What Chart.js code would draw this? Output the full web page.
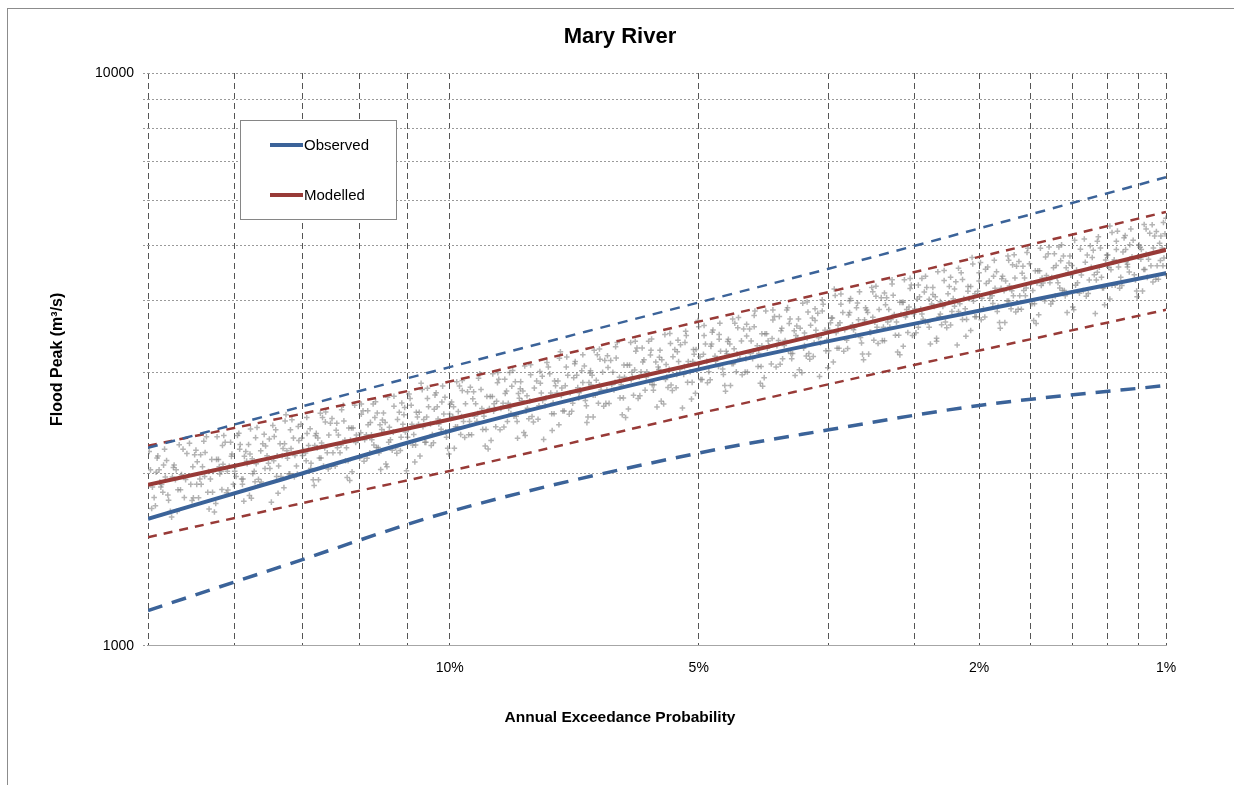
<!DOCTYPE html>
<html>
<head>
<meta charset="utf-8">
<title>Mary River</title>
<script src="https://cdn.jsdelivr.net/npm/chart.js@4.4.1/dist/chart.umd.min.js"></script>
<style>
    html, body { margin: 0; padding: 0; background: #fff; overflow: hidden; }
    #frame { position: absolute; left: 7px; top: 8px; width: 1300px; height: 900px;
             border-left: 1px solid #8c8c8c; border-top: 1px solid #8c8c8c; }
    #floodChart { position: absolute; left: 8px; top: 9px; }
</style>
</head>
<body>
<div id="frame"></div>
<canvas id="floodChart" width="1226" height="776"></canvas>
<script>
// AEP (%) where the frequency curves are given
const curveAep = [20, 15, 10, 5, 3.33, 2, 1];

// flood peaks (m3/s)
const observed      = [1666, 1951, 2371, 3037, 3403, 3845, 4472];
const observedUpper = [2216, 2560, 3065, 3975, 4552, 5353, 6577];
const observedLower = [1152, 1375, 1714, 2170, 2382, 2627, 2847];
const modelled      = [1910, 2147, 2483, 3114, 3525, 4086, 4912];
const modelledUpper = [2234, 2497, 2892, 3680, 4146, 4775, 5720];
const modelledLower = [1547, 1742, 2019, 2544, 2861, 3276, 3859];

// simulated event peaks: AEP (%) and flow (m3/s)
const sampleAep = [
    19.9, 19.75, 19.6, 19.45, 19.3, 19.1, 18.95, 18.8, 18.6,
    18.3, 18.15, 18.0, 17.85, 17.7, 17.55, 17.4, 17.25, 17.15,
    17.0, 16.85, 16.7, 16.55, 16.4, 16.3, 16.15, 16.05, 15.95,
    15.8, 15.65, 15.5, 15.35, 15.2, 15.1, 14.95, 14.85, 14.75,
    14.6, 14.5, 14.35, 14.2, 14.1, 13.95, 13.85, 13.75, 13.65,
    13.5, 13.4, 13.25, 13.15, 13.0, 12.9, 12.8, 12.7, 12.55,
    12.4, 12.3, 12.2, 12.1, 12.0, 11.9, 11.8, 11.7, 11.6,
    11.45, 11.35, 11.25, 11.15, 11.05, 10.95, 10.85, 10.75, 10.65,
    10.55, 10.45, 10.35, 10.25, 10.15, 10.05, 9.95, 9.85, 9.75,
    9.65, 9.55, 9.45, 9.35, 9.25, 9.15, 9.05, 8.95, 8.9,
    8.8, 8.7, 8.6, 8.55, 8.45, 8.35, 8.3, 8.2, 8.15,
    8.05, 7.95, 7.85, 7.8, 7.7, 7.6, 7.55, 7.45, 7.4,
    7.3, 7.2, 7.15, 7.05, 7.0, 6.9, 6.85, 6.8, 6.72,
    6.65, 6.58, 6.5, 6.43, 6.35, 6.28, 6.2, 6.13, 6.08,
    6.0, 5.93, 5.86, 5.8, 5.74, 5.68, 5.61, 5.55, 5.5,
    5.43, 5.37, 5.31, 5.25, 5.19, 5.13, 5.07, 5.01, 4.97,
    4.9, 4.85, 4.79, 4.73, 4.68, 4.62, 4.57, 4.52, 4.48,
    4.41, 4.36, 4.31, 4.26, 4.21, 4.16, 4.11, 4.06, 4.03,
    3.96, 3.91, 3.86, 3.81, 3.76, 3.72, 3.67, 3.63, 3.6,
    3.55, 3.51, 3.47, 3.43, 3.39, 3.35, 3.31, 3.27, 3.24,
    3.18, 3.14, 3.1, 3.06, 3.02, 2.98, 2.95, 2.91, 2.88,
    2.84, 2.8, 2.77, 2.73, 2.7, 2.66, 2.63, 2.6, 2.57,
    2.53, 2.5, 2.47, 2.44, 2.41, 2.38, 2.35, 2.32, 2.29,
    2.25, 2.22, 2.19, 2.16, 2.13, 2.1, 2.08, 2.05, 2.03,
    2.0, 1.97, 1.94, 1.91, 1.89, 1.86, 1.84, 1.81, 1.8,
    1.77, 1.75, 1.72, 1.7, 1.68, 1.65, 1.63, 1.61, 1.59,
    1.56, 1.54, 1.52, 1.5, 1.48, 1.46, 1.44, 1.42, 1.4,
    1.37, 1.35, 1.33, 1.31, 1.3, 1.28, 1.26, 1.24, 1.23,
    1.21, 1.19, 1.17, 1.16, 1.14, 1.12, 1.11, 1.09, 1.08,
    1.06, 1.045, 1.03, 1.015, 1.0,

    19.82, 19.67, 19.52, 19.37, 19.2, 19.02, 18.87, 18.7, 18.5,
    18.22, 18.07, 17.92, 17.77, 17.62, 17.47, 17.32, 17.2, 17.08,
    16.92, 16.77, 16.62, 16.47, 16.35, 16.22, 16.1, 16.0, 15.88,
    15.72, 15.57, 15.42, 15.27, 15.15, 15.02, 14.9, 14.8, 14.68,
    14.55, 14.42, 14.27, 14.15, 14.02, 13.9, 13.8, 13.7, 13.58,
    13.45, 13.32, 13.2, 13.07, 12.95, 12.85, 12.75, 12.62, 12.47,
    12.35, 12.25, 12.15, 12.05, 11.95, 11.85, 11.75, 11.65, 11.52,
    11.4, 11.3, 11.2, 11.1, 11.0, 10.9, 10.8, 10.7, 10.6,
    10.5, 10.4, 10.3, 10.2, 10.1, 10.0, 9.9, 9.8, 9.7,
    9.6, 9.5, 9.4, 9.3, 9.2, 9.1, 9.0, 8.92, 8.85,
    8.75, 8.65, 8.58, 8.5, 8.4, 8.33, 8.25, 8.18, 8.1,
    8.0, 7.9, 7.83, 7.75, 7.65, 7.58, 7.5, 7.43, 7.35,
    7.25, 7.18, 7.1, 7.02, 6.95, 6.88, 6.82, 6.76, 6.68,
    6.62, 6.54, 6.47, 6.39, 6.31, 6.24, 6.17, 6.1, 6.04,
    5.96, 5.9, 5.83, 5.77, 5.71, 5.64, 5.58, 5.52, 5.46,
    5.4, 5.34, 5.28, 5.22, 5.16, 5.1, 5.04, 4.99, 4.93,
    4.88, 4.82, 4.76, 4.7, 4.65, 4.6, 4.55, 4.5, 4.45,
    4.39, 4.33, 4.28, 4.23, 4.18, 4.13, 4.08, 4.05, 3.99,
    3.93, 3.88, 3.83, 3.78, 3.74, 3.7, 3.65, 3.61, 3.57,
    3.53, 3.49, 3.45, 3.41, 3.37, 3.33, 3.29, 3.25, 3.21,
    3.16, 3.12, 3.08, 3.04, 3.0, 2.96, 2.93, 2.9, 2.86,
    2.82, 2.78, 2.75, 2.71, 2.68, 2.64, 2.61, 2.58, 2.55,
    2.51, 2.48, 2.45, 2.42, 2.39, 2.36, 2.33, 2.3, 2.27,
    2.23, 2.2, 2.17, 2.14, 2.11, 2.09, 2.06, 2.04, 2.01,
    1.98, 1.95, 1.92, 1.9, 1.87, 1.85, 1.82, 1.8, 1.78,
    1.76, 1.73, 1.71, 1.69, 1.66, 1.64, 1.62, 1.6, 1.57,
    1.55, 1.53, 1.51, 1.49, 1.47, 1.45, 1.43, 1.41, 1.38,
    1.36, 1.34, 1.32, 1.3, 1.29, 1.27, 1.25, 1.235, 1.22,
    1.2, 1.18, 1.165, 1.15, 1.13, 1.115, 1.1, 1.085, 1.07,
    1.05, 1.035, 1.02, 1.008,

    19.95, 19.7, 19.55, 19.4, 19.25, 19.05, 18.9, 18.75, 18.55,
    18.35, 18.2, 18.05, 17.9, 17.75, 17.6, 17.45, 17.3, 17.12,
    17.05, 16.9, 16.75, 16.6, 16.45, 16.32, 16.2, 16.08, 15.92,
    15.85, 15.7, 15.55, 15.4, 15.25, 15.12, 14.98, 14.88, 14.72,
    14.65, 14.47, 14.32, 14.18, 14.05, 13.92, 13.82, 13.72, 13.62,
    13.55, 13.37, 13.22, 13.1, 12.98, 12.88, 12.78, 12.65, 12.5,
    12.45, 12.28, 12.18, 12.08, 11.98, 11.88, 11.78, 11.68, 11.55,
    11.5, 11.32, 11.22, 11.12, 11.02, 10.92, 10.82, 10.72, 10.62,
    10.58, 10.42, 10.32, 10.22, 10.12, 10.02, 9.92, 9.82, 9.72,
    9.68, 9.52, 9.42, 9.32, 9.22, 9.12, 9.02, 8.94, 8.87,
    8.82, 8.68, 8.62, 8.52, 8.42, 8.37, 8.27, 8.21, 8.12,
    8.08, 7.92, 7.87, 7.77, 7.67, 7.62, 7.52, 7.47, 7.37,
    7.32, 7.22, 7.12, 7.08, 6.97, 6.92, 6.84, 6.78, 6.7,
    6.68, 6.56, 6.52, 6.41, 6.37, 6.26, 6.22, 6.11, 6.06,
    6.03, 5.95, 5.88, 5.78, 5.76, 5.66, 5.63, 5.53, 5.48,
    5.45, 5.35, 5.33, 5.23, 5.21, 5.11, 5.09, 5.0, 4.95,
    4.92, 4.83, 4.81, 4.71, 4.7, 4.61, 4.59, 4.51, 4.46,
    4.43, 4.34, 4.32, 4.24, 4.22, 4.14, 4.12, 4.07, 4.0,
    3.98, 3.89, 3.87, 3.79, 3.77, 3.71, 3.68, 3.62, 3.58,
    3.57, 3.5, 3.48, 3.42, 3.4, 3.34, 3.32, 3.26, 3.22,
    3.2, 3.13, 3.11, 3.05, 3.03, 2.97, 2.96, 2.89, 2.87,
    2.85, 2.79, 2.76, 2.72, 2.69, 2.65, 2.62, 2.59, 2.56,
    2.54, 2.49, 2.46, 2.43, 2.4, 2.37, 2.34, 2.31, 2.28,
    2.26, 2.21, 2.18, 2.15, 2.12, 2.095, 2.07, 2.045, 2.02,
    1.99, 1.96, 1.93, 1.905, 1.88, 1.855, 1.83, 1.805, 1.785,
    1.765, 1.74, 1.715, 1.695, 1.67, 1.645, 1.625, 1.605, 1.58,
    1.555, 1.535, 1.515, 1.495, 1.475, 1.455, 1.435, 1.415, 1.39,
    1.365, 1.345, 1.325, 1.305, 1.285, 1.265, 1.245, 1.23, 1.215,
    1.205, 1.185, 1.168, 1.152, 1.135, 1.118, 1.102, 1.088, 1.075,
    1.055, 1.04, 1.025, 1.012, 1.004,

    19.85, 19.63, 19.48, 19.33, 19.17, 18.98, 18.83, 18.66, 18.45,
    18.25, 18.1, 17.95, 17.8, 17.65, 17.5, 17.35, 17.22, 17.1,
    16.95, 16.8, 16.65, 16.5, 16.37, 16.25, 16.12, 16.02, 15.9,
    15.75, 15.6, 15.45, 15.3, 15.17, 15.05, 14.92, 14.82, 14.7,
    14.57, 14.44, 14.3, 14.16, 14.03, 13.88, 13.78, 13.68, 13.56,
    13.47, 13.35, 13.18, 13.05, 12.93, 12.83, 12.73, 12.6, 12.45,
    12.37, 12.26, 12.14, 12.03, 11.93, 11.83, 11.73, 11.63, 11.5,
    11.42, 11.28, 11.18, 11.08, 10.98, 10.88, 10.78, 10.68, 10.58,
    10.48, 10.38, 10.28, 10.18, 10.08, 9.98, 9.88, 9.78, 9.68,
    9.62, 9.48, 9.38, 9.28, 9.18, 9.08, 8.98, 8.91, 8.83,
    8.77, 8.66, 8.57, 8.48, 8.38, 8.31, 8.23, 8.16, 8.08,
    8.02, 7.88, 7.82, 7.73, 7.63, 7.57, 7.48, 7.42, 7.33,
    7.27, 7.16, 7.07, 7.0, 6.93, 6.86, 6.8, 6.74, 6.67,
    6.6, 6.53, 6.45, 6.38, 6.3, 6.23, 6.15, 6.09, 6.02,
    5.98, 5.91, 5.84, 5.75, 5.72, 5.62, 5.59, 5.51, 5.44,
    5.41, 5.32, 5.29, 5.2, 5.17, 5.08, 5.05, 4.98, 4.92,
    4.87, 4.8, 4.75, 4.69, 4.64, 4.58, 4.54, 4.49, 4.44,
    4.38, 4.32, 4.27, 4.22, 4.17, 4.12, 4.09, 4.04, 3.98,
    3.94, 3.9, 3.84, 3.8, 3.75, 3.69, 3.66, 3.6, 3.56,
    3.54, 3.48, 3.44, 3.4, 3.36, 3.3, 3.28, 3.23, 3.2,
    3.17, 3.11, 3.07, 3.01, 2.99, 2.94, 2.92, 2.88, 2.85,
    2.83, 2.77, 2.74, 2.7, 2.67, 2.63, 2.6, 2.57, 2.54,
    2.52, 2.47, 2.44, 2.41, 2.38, 2.35, 2.32, 2.29, 2.26,
    2.24, 2.21, 2.18, 2.15, 2.12, 2.08, 2.06, 2.03, 2.0,
    1.985, 1.955, 1.925, 1.895, 1.875, 1.845, 1.825, 1.795, 1.775,
    1.755, 1.735, 1.705, 1.685, 1.655, 1.635, 1.615, 1.595, 1.575,
    1.545, 1.525, 1.505, 1.485, 1.465, 1.445, 1.425, 1.405, 1.385,
    1.355, 1.335, 1.315, 1.295, 1.275, 1.255, 1.24, 1.225, 1.21,
    1.195, 1.175, 1.16, 1.145, 1.125, 1.105, 1.095, 1.08, 1.065,
    1.052, 1.038, 1.022, 1.01, 1.002
];
const sampleFlow = [
    2028, 1814, 2145, 1911, 1970, 1716, 2067, 1872, 2204,
    1913, 2155, 1813, 2054, 2316, 1954, 1712, 2115, 2014,
    2266, 2058, 1913, 2328, 1954, 2141, 2245, 1809, 2017,
    1953, 2253, 2146, 1781, 2382, 2060, 2210, 2532, 1996,
    2304, 2060, 2437, 2171, 2237, 1949, 2348, 2126, 2503,
    2172, 2446, 2057, 2332, 2629, 2217, 1943, 2400, 2286,
    2572, 2336, 2171, 2643, 2218, 2431, 2549, 2053, 2289,
    2216, 2557, 2435, 2021, 2703, 2338, 2508, 2873, 2265,
    2614, 2337, 2764, 2463, 2538, 2211, 2664, 2412, 2840,
    2464, 2776, 2335, 2646, 2983, 2516, 2205, 2724, 2594,
    2918, 2650, 2463, 2998, 2516, 2757, 2891, 2329, 2597,
    2513, 2900, 2762, 2292, 3066, 2652, 2845, 3259, 2569,
    2965, 2651, 3136, 2794, 2880, 2509, 3022, 2737, 3222,
    2796, 3149, 2649, 3002, 3384, 2855, 2502, 3090, 2943,
    3310, 3007, 2794, 3401, 2855, 3128, 3280, 2642, 2946,
    2852, 3291, 3134, 2601, 3479, 3009, 3228, 3698, 2915,
    3364, 3009, 3559, 3170, 3267, 2847, 3429, 3106, 3656,
    3172, 3573, 3005, 3406, 3840, 3239, 2838, 3506, 3339,
    3755, 3411, 3169, 3858, 3238, 3548, 3721, 2997, 3342,
    3236, 3734, 3556, 2951, 3947, 3414, 3663, 4196, 3307,
    3818, 3414, 4038, 3598, 3708, 3230, 3891, 3524, 4148,
    3599, 4053, 3409, 3864, 4356, 3674, 3220, 3977, 3788,
    4262, 3871, 3597, 4379, 3675, 4027, 4223, 3402, 3793,
    3673, 4238, 4036, 3350, 4480, 3875, 4157, 4762, 3753,
    4333, 3874, 4583, 4083, 4208, 3666, 4416, 3999, 4708,
    4084, 4600, 3869, 4385, 4944, 4170, 3654, 4514, 4299,
    4836, 4393, 4082, 4969, 4171, 4570, 4792, 3860, 4304,
    4168, 4809, 4580, 3801, 5084, 4397, 4717, 5404, 4259,
    4917, 4397, 5201, 4633, 4775, 4161, 5012, 4539, 5343,
    4608, 5190, 4365, 4947, 5578,

    1892, 2009, 1931, 2067, 1833, 1970, 2028, 1872, 1950,
    2054, 1913, 2155, 1974, 2014, 1853, 2115, 1994, 2074,
    2017, 2141, 2058, 2204, 1954, 2100, 2162, 1996, 2079,
    2189, 2039, 2296, 2103, 2146, 1974, 2253, 2125, 2210,
    2149, 2281, 2193, 2348, 2082, 2237, 2304, 2126, 2215,
    2332, 2172, 2446, 2240, 2286, 2103, 2400, 2263, 2355,
    2289, 2431, 2336, 2502, 2218, 2384, 2454, 2266, 2360,
    2484, 2313, 2605, 2386, 2435, 2240, 2557, 2411, 2508,
    2438, 2588, 2488, 2664, 2362, 2538, 2614, 2412, 2513,
    2646, 2464, 2776, 2542, 2594, 2386, 2724, 2568, 2672,
    2597, 2757, 2650, 2838, 2516, 2704, 2784, 2570, 2677,
    2817, 2624, 2955, 2707, 2762, 2541, 2900, 2734, 2845,
    2765, 2937, 2822, 3022, 2680, 2880, 2965, 2737, 2851,
    3002, 2796, 3149, 2884, 2943, 2708, 3090, 2914, 3031,
    2946, 3128, 3007, 3219, 2855, 3067, 3158, 2916, 3037,
    3197, 2977, 3353, 3071, 3134, 2883, 3291, 3103, 3228,
    3138, 3332, 3203, 3429, 3041, 3267, 3364, 3106, 3235,
    3406, 3172, 3573, 3272, 3339, 3072, 3506, 3306, 3439,
    3342, 3548, 3411, 3652, 3238, 3479, 3583, 3307, 3445,
    3627, 3378, 3805, 3485, 3556, 3272, 3734, 3520, 3663,
    3561, 3781, 3634, 3891, 3451, 3708, 3818, 3524, 3671,
    3864, 3599, 4053, 3712, 3788, 3485, 3977, 3750, 3902,
    3793, 4027, 3871, 4145, 3675, 3949, 4066, 3754, 3910,
    4117, 3834, 4319, 3955, 4036, 3713, 4238, 3996, 4157,
    4041, 4291, 4124, 4416, 3916, 4208, 4333, 3999, 4166,
    4385, 4084, 4600, 4213, 4299, 3955, 4514, 4256, 4428,
    4304, 4570, 4393, 4703, 4171, 4481, 4614, 4260, 4437,
    4672, 4351, 4901, 4488, 4580, 4214, 4809, 4534, 4717,
    4586, 4870, 4681, 5012, 4444, 4775, 4917, 4539, 4728,
    4947, 4608, 5190, 4753,

    2184, 1755, 2028, 1853, 2106, 1677, 1950, 2243, 1814,
    2256, 1813, 2095, 1913, 2175, 1732, 2014, 2316, 1873,
    2328, 1871, 2162, 1975, 2245, 1788, 2079, 2391, 1933,
    2404, 1931, 2232, 2039, 2318, 1846, 2146, 2468, 1996,
    2481, 1994, 2304, 2104, 2392, 1905, 2215, 2547, 2060,
    2560, 2057, 2377, 2172, 2469, 1966, 2286, 2629, 2126,
    2643, 2124, 2454, 2242, 2549, 2030, 2360, 2714, 2195,
    2727, 2192, 2532, 2313, 2630, 2094, 2435, 2800, 2265,
    2815, 2262, 2614, 2387, 2714, 2161, 2513, 2890, 2337,
    2905, 2335, 2698, 2464, 2802, 2231, 2594, 2983, 2412,
    2998, 2409, 2784, 2543, 2891, 2302, 2677, 3079, 2490,
    3093, 2486, 2872, 2624, 2983, 2375, 2762, 3176, 2569,
    3193, 2566, 2965, 2708, 3079, 2452, 2851, 3279, 2651,
    3296, 2649, 3061, 2796, 3178, 2531, 2943, 3384, 2737,
    3401, 2733, 3158, 2885, 3280, 2612, 3037, 3493, 2824,
    3510, 2821, 3259, 2977, 3385, 2695, 3134, 3604, 2915,
    3623, 2912, 3364, 3073, 3494, 2782, 3235, 3720, 3009,
    3740, 3005, 3473, 3172, 3606, 2872, 3339, 3840, 3105,
    3858, 3101, 3583, 3273, 3721, 2963, 3445, 3962, 3204,
    3983, 3200, 3698, 3378, 3840, 3058, 3556, 4089, 3307,
    4112, 3304, 3818, 3487, 3965, 3157, 3671, 4222, 3414,
    4243, 3409, 3940, 3599, 4091, 3258, 3788, 4356, 3523,
    4379, 3519, 4066, 3715, 4223, 3363, 3910, 4497, 3636,
    4520, 3632, 4197, 3834, 4359, 3471, 4036, 4641, 3753,
    4666, 3749, 4333, 3958, 4499, 3583, 4166, 4791, 3874,
    4815, 3869, 4471, 4084, 4643, 3697, 4299, 4944, 3998,
    4969, 3993, 4614, 4215, 4792, 3816, 4437, 5103, 4126,
    5130, 4122, 4763, 4351, 4946, 3939, 4580, 5267, 4259,
    5295, 4255, 4917, 4492, 5106, 4066, 4728, 5437, 4397,
    5432, 4365, 5044, 4608, 5238,

    1736, 2126, 1892, 2204, 1794, 2048, 1716, 1989, 2165,
    1792, 2195, 1954, 2276, 1853, 2115, 1772, 2054, 2236,
    1850, 2266, 2017, 2349, 1913, 2183, 1830, 2121, 2308,
    1910, 2339, 2082, 2425, 1974, 2253, 1888, 2189, 2382,
    1971, 2414, 2149, 2503, 2038, 2326, 1949, 2259, 2459,
    2035, 2492, 2217, 2583, 2103, 2400, 2012, 2332, 2537,
    2100, 2572, 2289, 2667, 2171, 2478, 2077, 2407, 2620,
    2167, 2654, 2362, 2752, 2240, 2557, 2143, 2484, 2703,
    2237, 2739, 2438, 2840, 2312, 2639, 2211, 2563, 2789,
    2309, 2827, 2516, 2931, 2386, 2724, 2283, 2646, 2879,
    2383, 2918, 2597, 3025, 2463, 2811, 2356, 2731, 2971,
    2458, 3011, 2679, 3121, 2541, 2900, 2431, 2817, 3066,
    2537, 3108, 2765, 3222, 2623, 2994, 2509, 2908, 3165,
    2619, 3208, 2855, 3326, 2708, 3090, 2590, 3002, 3267,
    2703, 3310, 2946, 3432, 2794, 3189, 2673, 3098, 3371,
    2789, 3416, 3040, 3541, 2883, 3291, 2758, 3197, 3479,
    2879, 3526, 3138, 3656, 2976, 3397, 2847, 3300, 3591,
    2972, 3640, 3239, 3773, 3072, 3506, 2938, 3406, 3706,
    3066, 3755, 3342, 3893, 3169, 3617, 3032, 3514, 3824,
    3165, 3876, 3449, 4018, 3272, 3734, 3129, 3627, 3947,
    3267, 4001, 3561, 4148, 3377, 3855, 3230, 3744, 4075,
    3371, 4129, 3674, 4280, 3485, 3977, 3333, 3864, 4205,
    3480, 4262, 3793, 4418, 3597, 4106, 3441, 3988, 4340,
    3592, 4399, 3915, 4561, 3713, 4238, 3552, 4117, 4480,
    3708, 4541, 4041, 4708, 3833, 4374, 3666, 4249, 4624,
    3826, 4686, 4170, 4858, 3955, 4514, 3783, 4385, 4772,
    3949, 4836, 4304, 5014, 4082, 4659, 3905, 4526, 4925,
    4076, 4992, 4443, 5175, 4214, 4809, 4030, 4672, 5084,
    4208, 5154, 4586, 5343, 4350, 4964, 4161, 4823, 5248,
    4317, 5287, 4705, 5481, 4462
];

// return periods (1 in N years) with a vertical grid line
const gridAri = [5, 6, 7, 8, 9, 10, 20, 30, 40, 50, 60, 70, 80, 90, 100];
const labelAep = [10, 5, 2, 1];
const labelText = ['10%', '5%', '2%', '1%'];
const flowTicks = [1000, 2000, 3000, 4000, 5000, 6000, 7000, 8000, 9000, 10000];
const flowLabels = [1000, 10000];

const FONT = "'Liberation Sans', Arial, sans-serif";

// inverse standard normal CDF (Acklam)
function probit(p) {
    const a = [-39.69683028665376, 220.9460984245205, -275.9285104469687, 138.3577518672690, -30.66479806614716, 2.506628277459239];
    const b = [-54.47609879822406, 161.5858368580409, -155.6989798598866, 66.80131188771972, -13.28068155288572];
    const c = [-0.007784894002430293, -0.3223964580411365, -2.400758277161838, -2.549732539343734, 4.374664141464968, 2.938163982698783];
    const d = [0.007784695709041462, 0.3224671290700398, 2.445134137142996, 3.754408661907416];
    const pl = 0.02425;
    let q, r;
    if (p < pl) {
        q = Math.sqrt(-2 * Math.log(p));
        return (((((c[0]*q+c[1])*q+c[2])*q+c[3])*q+c[4])*q+c[5]) / ((((d[0]*q+d[1])*q+d[2])*q+d[3])*q+1);
    }
    if (p <= 1 - pl) {
        q = p - 0.5; r = q * q;
        return (((((a[0]*r+a[1])*r+a[2])*r+a[3])*r+a[4])*r+a[5])*q / (((((b[0]*r+b[1])*r+b[2])*r+b[3])*r+b[4])*r+1);
    }
    q = Math.sqrt(-2 * Math.log(1 - p));
    return -(((((c[0]*q+c[1])*q+c[2])*q+c[3])*q+c[4])*q+c[5]) / ((((d[0]*q+d[1])*q+d[2])*q+d[3])*q+1);
}

// position on the normal probability axis for an AEP in percent
function aepToZ(aep) {
    return probit(1 - aep / 100);
}

function curve(values) {
    return curveAep.map((aep, i) => ({ x: aepToZ(aep), y: values[i] }));
}

const samplePoints = sampleAep.map((aep, i) => ({ x: aepToZ(aep), y: sampleFlow[i] }));
const labelZ = labelAep.map(aepToZ);

const BLUE = '#3b6399';
const RED = '#983a37';

function lineSet(label, values, color, width, dash) {
    return {
        label: label,
        data: curve(values),
        showLine: true,
        borderColor: color,
        borderWidth: width,
        borderDash: dash,
        pointRadius: 0,
        fill: false,
        cubicInterpolationMode: 'monotone',
        order: 1
    };
}

const legendBox = {
    id: 'legendBox',
    afterDatasetsDraw(chart) {
        const ctx = chart.ctx;
        const x = chart.chartArea.left + 92;
        const y = chart.chartArea.top + 47;
        ctx.save();
        ctx.fillStyle = '#fff';
        ctx.fillRect(x, y, 156, 99);
        ctx.strokeStyle = '#868686';
        ctx.lineWidth = 1;
        ctx.strokeRect(x + 0.5, y + 0.5, 156, 99);
        const entries = [['Observed', BLUE, 25], ['Modelled', RED, 75]];
        ctx.font = '15px ' + FONT;
        ctx.textBaseline = 'middle';
        entries.forEach(([text, color, dy]) => {
            ctx.strokeStyle = color;
            ctx.lineWidth = 4;
            ctx.beginPath();
            ctx.moveTo(x + 30, y + dy);
            ctx.lineTo(x + 63, y + dy);
            ctx.stroke();
            ctx.fillStyle = '#000';
            ctx.fillText(text, x + 64, y + dy + 1);
        });
        ctx.restore();
    }
};

new Chart(document.getElementById('floodChart'), {
    type: 'scatter',
    data: {
        datasets: [
            lineSet('Observed', observed, BLUE, 4, []),
            lineSet('Modelled', modelled, RED, 4, []),
            lineSet('Observed upper', observedUpper, BLUE, 2.5, [10, 8]),
            lineSet('Observed lower', observedLower, BLUE, 3.5, [15, 10]),
            lineSet('Modelled upper', modelledUpper, RED, 2.5, [9, 7]),
            lineSet('Modelled lower', modelledLower, RED, 2.5, [9, 7]),
            {
                label: 'Simulated',
                data: samplePoints,
                pointStyle: 'cross',
                pointRadius: 2.8,
                borderWidth: 1.5,
                borderColor: 'rgba(125,125,125,0.58)',
                backgroundColor: 'rgba(125,125,125,0.58)',
                order: 5
            }
        ]
    },
    options: {
        responsive: false,
        animation: false,
        devicePixelRatio: 1,
        // left padding keeps the titles centred on the whole frame
        layout: { padding: { left: 66, right: 68, top: 0, bottom: 0 } },
        plugins: {
            legend: { display: false },
            tooltip: { enabled: false },
            title: {
                display: true,
                text: 'Mary River',
                color: '#000',
                font: { family: FONT, size: 22, weight: 'bold' },
                padding: { top: 15, bottom: 22.6 }
            },
            subtitle: {
                display: true,
                position: 'bottom',
                text: 'Annual Exceedance Probability',
                color: '#000',
                font: { family: FONT, size: 15.5, weight: 'bold' },
                padding: { top: 0, bottom: 57.7 }
            }
        },
        scales: {
            x: {
                type: 'linear',
                min: aepToZ(20),
                max: aepToZ(1),
                afterFit(scale) { scale.height = 63; },
                afterBuildTicks(scale) {
                    scale.ticks = gridAri.map(n => ({ value: aepToZ(100 / n) }));
                },
                ticks: {
                    autoSkip: false,
                    maxRotation: 0,
                    padding: 14,
                    color: '#000',
                    font: { family: FONT, size: 14 },
                    callback(value) {
                        const i = labelZ.findIndex(z => Math.abs(z - value) < 1e-6);
                        return i >= 0 ? labelText[i] : '';
                    }
                },
                grid: { color: '#555', lineWidth: 1, drawTicks: false },
                border: { display: true, color: '#a6a6a6', width: 1, dash: [6, 4] }
            },
            y: {
                type: 'logarithmic',
                min: 1000,
                max: 10000,
                afterFit(scale) { scale.width = 74; },
                afterBuildTicks(scale) {
                    scale.ticks = flowTicks.map(v => ({ value: v }));
                },
                ticks: {
                    autoSkip: false,
                    padding: 9,
                    color: '#000',
                    font: { family: FONT, size: 14 },
                    callback(value) {
                        return flowLabels.includes(value) ? String(value) : '';
                    }
                },
                grid: { color: '#9a9a9a', lineWidth: 1, tickLength: 5, tickBorderDash: [2, 2] },
                border: { display: false, dash: [2, 2] },
                title: {
                    display: true,
                    text: 'Flood Peak (m³/s)',
                    color: '#000',
                    font: { family: FONT, size: 16, weight: 'bold' },
                    // pulls the rotated title out to the left of the scale box
                    padding: { top: -25.6, bottom: 0 }
                }
            }
        }
    },
    plugins: [legendBox]
});
</script>
</body>
</html>
